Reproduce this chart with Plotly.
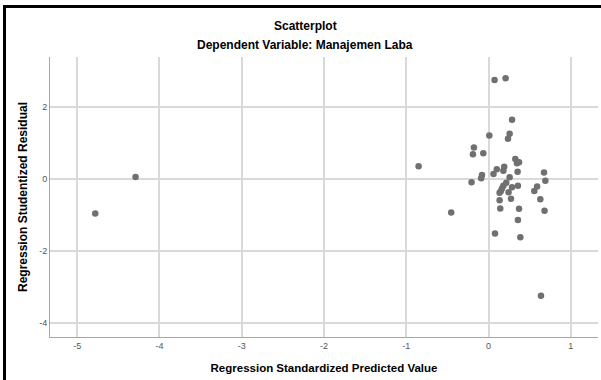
import plotly.graph_objects as go

# Regression standardized predicted value (x) and studentized residual (y)
pred = [0.073, 0.207, 0.285, 0.256, 0.236, 0.009, -0.178, -0.19, -0.064, 0.325,
        0.345, 0.37, 0.353, 0.674, 0.19, 0.18, 0.10, 0.06, -0.08, -0.09,
        0.256, -0.207, 0.69, 0.215, 0.18, 0.285, 0.357, 0.163, 0.15, 0.134,
        0.243, 0.59, 0.556, 0.272, 0.134, 0.629, -0.454, 0.142, 0.37, 0.68,
        0.357, 0.078, 0.386, -0.85, 0.637, -4.78, -4.29]
resid = [2.76, 2.81, 1.65, 1.26, 1.12, 1.21, 0.88, 0.69, 0.72, 0.56,
         0.44, 0.47, 0.20, 0.18, 0.34, 0.23, 0.27, 0.14, 0.11, 0.02,
         0.05, -0.09, -0.05, -0.10, -0.19, -0.23, -0.19, -0.26, -0.33, -0.38,
         -0.37, -0.21, -0.33, -0.55, -0.59, -0.56, -0.93, -0.82, -0.83, -0.88,
         -1.14, -1.52, -1.62, 0.36, -3.25, -0.96, 0.06]

x_ticks = [-5, -4, -3, -2, -1, 0, 1]
y_ticks = [-4, -2, 0, 2]

title_main = "Scatterplot"
title_sub = "Dependent Variable: Manajemen Laba"
x_title = "Regression Standardized Predicted Value"
y_title = "Regression Studentized Residual"

W, H = 601, 380
L, R, T, B = 50, 3, 57, 43
pw, ph = W - L - R, H - T - B

def px_x(p):
    return (p - L) / pw

def px_y(p):
    return (H - B - p) / ph

FONT = "Liberation Sans, Arial, sans-serif"

fig = go.Figure(go.Scatter(
    x=pred, y=resid, mode="markers",
    marker=dict(color="#707070", size=6.5, line=dict(width=0)),
    showlegend=False, hoverinfo="skip"))

axis_common = dict(
    showgrid=True, gridcolor="#d9d9d9", gridwidth=1.5,
    zeroline=False, showline=True, linecolor="#a6a6a6", linewidth=1,
    ticks="", tickfont=dict(family=FONT, size=9, color="#555555"),
)

fig.update_xaxes(range=[-5.33, 1.33], tickvals=x_ticks,
                 ticktext=[str(v) for v in x_ticks],
                 title_text="<b>" + x_title + "</b>", title_standoff=14,
                 title_font=dict(family=FONT, size=11.5, color="#000000"),
                 **axis_common)
fig.update_yaxes(range=[-4.4, 3.4], tickvals=y_ticks,
                 ticktext=[str(v) for v in y_ticks],
                 title_text="<b>" + y_title + "</b>", title_standoff=8,
                 title_font=dict(family=FONT, size=12, color="#000000"),
                 **axis_common)

fig.update_layout(
    width=W, height=H,
    margin=dict(l=L, r=R, t=T, b=B, pad=0),
    paper_bgcolor="white", plot_bgcolor="white",
    font=dict(family=FONT),
    annotations=[
        dict(text="<b>" + title_main + "</b>", x=px_x(305), y=px_y(26),
             xref="paper", yref="paper", showarrow=False,
             font=dict(family=FONT, size=12, color="#000"),
             xanchor="center", yanchor="middle"),
        dict(text="<b>" + title_sub + "</b>", x=px_x(305), y=px_y(45),
             xref="paper", yref="paper", showarrow=False,
             font=dict(family=FONT, size=12, color="#000"),
             xanchor="center", yanchor="middle"),
    ],
    shapes=[
        dict(type="line", xref="paper", yref="paper",
             x0=px_x(3), x1=px_x(W + 5), y0=px_y(6.5), y1=px_y(6.5),
             line=dict(color="black", width=3)),
        dict(type="line", xref="paper", yref="paper",
             x0=px_x(4.5), x1=px_x(4.5), y0=px_y(5), y1=px_y(H + 5),
             line=dict(color="black", width=3)),
    ],
)

fig.write_html("out.html",
               config={"displayModeBar": False},
               post_script="document.body.style.margin='0';"
                           "document.body.style.overflow='hidden';")
